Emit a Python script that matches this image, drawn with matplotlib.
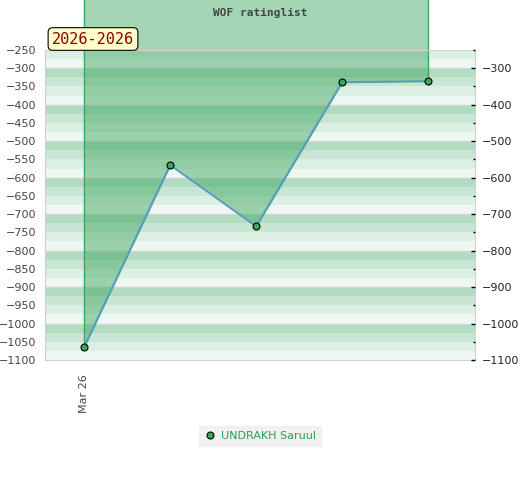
import numpy as np
import matplotlib.pyplot as plt
from matplotlib.colors import to_rgba
from matplotlib.ticker import MultipleLocator

# данные рейтинга
dates = ["Mar 26", "", "", "", ""]
rating = [-1064, -565, -733, -338, -335]
player = "UNDRAKH Saruul"
period = "2026-2026"
title = "WOF ratinglist"

band_colors = ["#eef7f1", "#dcefe3", "#c8e6d3", "#b1dcc1"]

fig = plt.figure(figsize=(5.2, 4.8), dpi=100)
ax = fig.add_axes([45 / 520, 1 - 360 / 480, 430 / 520, 310 / 480])

ymin, ymax = -1100, -250
ax.set_ylim(ymin, ymax)
ax.set_xlim(-0.453, 4.547)

# полосатый фон
for k, lo in enumerate(np.arange(ymin, ymax, 25)):
    ax.axhspan(lo, lo + 25, color=band_colors[k % 4], lw=0, zorder=0)
for v in np.arange(-1000, ymax, 100):
    ax.axhline(v, color="#d5d5d5", lw=1, zorder=0.5)

x = np.arange(len(rating))
ax.fill_between(x, rating, 0, facecolor=to_rgba("#37a25b", 0.45),
                edgecolor="#3aa862", lw=1, clip_on=False, zorder=1)
ax.plot(x, rating, color="#5b9bd5", lw=1.2, zorder=2)
ax.plot(x, rating, "o", color="#3aa65d", mec="black", mew=0.8, ms=5, zorder=3,
        label=player)

ax.set_xticks([0])
ax.set_xticklabels([dates[0]], rotation=90, fontsize=8, color="#444444")
ax.tick_params(axis="x", length=0, pad=10)

ax.yaxis.set_major_locator(MultipleLocator(50))
ax.tick_params(axis="y", length=0, pad=6.5, labelsize=8, labelcolor="#444444")
for s in ax.spines.values():
    s.set_color("#d0d0d0")

ax2 = ax.twinx()
ax2.set_ylim(ymin, ymax)
ax2.yaxis.set_major_locator(MultipleLocator(100))
ax2.yaxis.set_minor_locator(MultipleLocator(50))
ax2.tick_params(axis="y", which="major", direction="in", length=3, width=1,
                color="black", labelsize=8, labelcolor="#222222", pad=5)
ax2.tick_params(axis="y", which="minor", direction="in", length=1.8, width=1,
                color="black")
for s in ax2.spines.values():
    s.set_visible(False)

fig.text(0.5, 1 - 13 / 480, title, ha="center", va="center", fontsize=8,
         family="DejaVu Sans Mono", weight="bold", color="#444444")

fig.text(93 / 520, 1 - 39 / 480, period, ha="center", va="center", fontsize=11,
         family="DejaVu Sans Mono", color="#8b0000",
         bbox=dict(boxstyle="round,pad=0.25,rounding_size=0.3",
                   facecolor="#ffffcc", edgecolor="black", lw=0.8))

leg = fig.legend(loc="center", bbox_to_anchor=(0.5, 1 - 436 / 480), frameon=True,
                 fontsize=8, handletextpad=0.5, borderpad=0.15, handlelength=1,
                 handleheight=0.5, borderaxespad=0)
leg.get_frame().set_facecolor("#eeeeee")
leg.get_frame().set_edgecolor("#eeeeee")
leg.get_frame().set_boxstyle("square")
for t in leg.get_texts():
    t.set_color("#2e9e55")

fig.savefig("out.png", dpi=100)
